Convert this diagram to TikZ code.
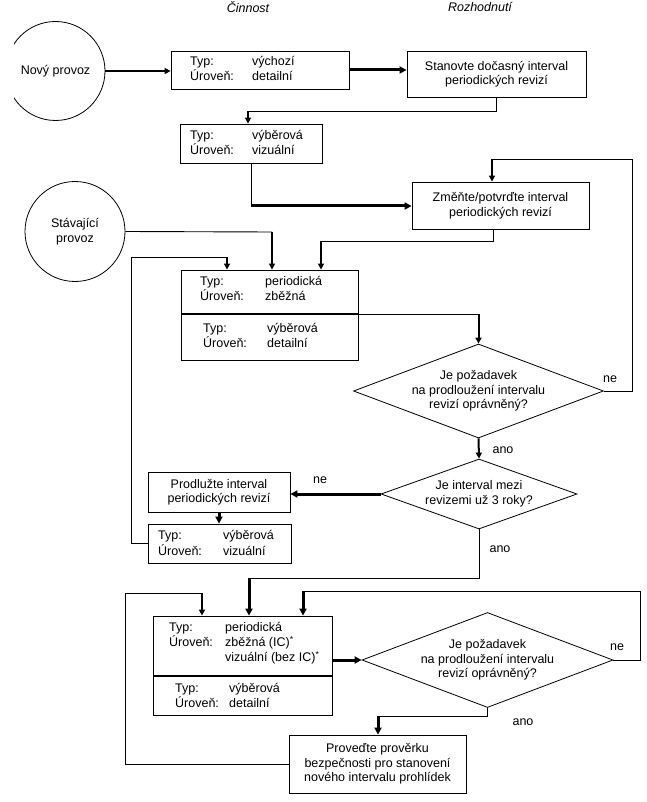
\documentclass[tikz,border=0pt]{standalone}
\usepackage{fontspec}
\setmainfont{Liberation Sans}
\usetikzlibrary{arrows.meta,positioning,shapes.geometric}

\tikzset{
  box/.style={draw, line width=0.8pt, inner sep=0pt, align=center},
  circ/.style={draw, circle, line width=0.8pt, inner sep=0pt, align=center},
  ask/.style={draw, diamond, line width=0.8pt, inner sep=0pt, align=center},
  txt/.style={inner sep=0pt, anchor=west},
  lbl/.style={inner sep=0pt},
  link/.style={line width=0.9pt},
  tip/.style={line width=2pt, -{Triangle[length=6pt,width=6pt]}},
  heavy/.style={line width=3pt, -{Triangle[length=7pt,width=7pt]}}
}
\newcommand{\typlevel}[3]{\begin{tabular}{@{}p{#1pt}@{}l@{}}Typ: & #2\\ Úroveň: & #3\end{tabular}}

\begin{document}
\begin{tikzpicture}[x=1pt, y=-1pt, font=\fontsize{12.5}{14.5}\selectfont]
\useasboundingbox (0,0) rectangle (646,802);

% Column headings
\node[lbl, font=\fontsize{12.5}{14.5}\selectfont\itshape] (hcin) at (248,7) {Činnost};
\node[lbl, font=\fontsize{12.5}{14.5}\selectfont\itshape] (hroz) at (480,7) {Rozhodnutí};

% Start points
\begin{scope}
  \clip (14,0) rectangle (200,140);
  \node[circ, minimum size=99pt] (novy) at (55.5,71) {Nový provoz};
\end{scope}
\node[circ, minimum size=100pt] (stav) at (75,231.5) {Stávající\\provoz};

% Inspections (Typ / Úroveň)
\node[box, minimum width=178pt, minimum height=38pt] (b1) at (260,70) {};
\node[txt] (b1t) at (190,70.5) {\typlevel{62}{výchozí}{detailní}};
\node[box, minimum width=142pt, minimum height=39pt] (b2) at (251,143.5) {};
\node[txt] (b2t) at (190,144.5) {\typlevel{62}{výběrová}{vizuální}};
\node[box, minimum width=177pt, minimum height=90pt] (b3) at (269.5,315) {};
\node[txt] (b3a) at (200,290) {\typlevel{65}{periodická}{zběžná}};
\node[txt] (b3b) at (203,337.5) {\typlevel{64}{výběrová}{detailní}};
\coordinate (cut3) at (181,314);
\draw[line width=1.5pt] (cut3) -- (cut3 -| b3.east);
\node[box, minimum width=143pt, minimum height=39pt] (b4) at (219.5,543.5) {};
\node[txt] (b4t) at (158,544.5) {\typlevel{65}{výběrová}{vizuální}};
\node[box, minimum width=179pt, minimum height=99pt] (b5) at (242.5,665.5) {};
\node[txt] (b5a) at (169,643.5) {\begin{tabular}{@{}p{56pt}@{}l@{}}Typ: & periodická\\ Úroveň: & zběžná (IC)\textsuperscript{*}\\ & vizuální (bez IC)\textsuperscript{*}\end{tabular}};
\node[txt] (b5b) at (175,697) {\typlevel{54}{výběrová}{detailní}};
\coordinate (cut5) at (153,676);
\draw[line width=1.5pt] (cut5) -- (cut5 -| b5.east);

% Actions
\node[box, minimum width=179pt, minimum height=46pt] (stan) at (496.5,74) {Stanovte dočasný interval\\periodických revizí};
\node[box, minimum width=177pt, minimum height=47pt] (zmen) at (500.5,205.5) {Změňte/potvrďte interval\\periodických revizí};
\node[box, minimum width=142pt, minimum height=40pt] (prod) at (219,492) {Prodlužte interval\\periodických revizí};
\node[box, minimum width=177pt, minimum height=58pt] (prov) at (377.5,764) {Proveďte prověrku\\bezpečnosti pro stanovení\\nového intervalu prohlídek};

% Decisions
\node[ask, aspect=2.66, minimum width=250pt, minimum height=94pt] (d1) at (478.5,391) {Je požadavek\\na prodloužení intervalu\\revizí oprávněný?};
\node[ask, aspect=2.8, minimum width=196pt, minimum height=70pt] (d2) at (479,494) {Je interval mezi\\revizemi už 3 roky?};
\node[ask, aspect=2.64, minimum width=251pt, minimum height=95pt] (d3) at (487.5,660) {Je požadavek\\na prodloužení intervalu\\revizí oprávněný?};

% Top part
\draw[tip] (novy.east) -- (novy.east -| b1.west);
\draw[heavy] (b1.east) -- (b1.east -| stan.west);
\coordinate (k1) at (248,111);
\draw[link] (stan.south) |- (k1);
\draw[tip] (k1) -- (k1 |- b2.north);
\coordinate (k2) at (251,206);
\draw[link] (b2.south) -- (k2);
\draw[heavy] (k2) -- (k2 -| zmen.west);

% Into the periodic inspection
\coordinate (k3) at (272,232);
\draw[link] (stav.east) -- (k3);
\draw[tip] (k3) -- (k3 |- b3.north);
\coordinate (k4) at (321,241);
\draw[link] ([xshift=-7.5pt]zmen.south) |- (k4);
\draw[tip] (k4) -- (k4 |- b3.north);
\coordinate (k5) at (131,257);
\coordinate (k6) at (227,257);
\draw[link] (b4.west) -| (k5) -- (k6);
\draw[tip] (k6) -- (k6 |- b3.north);

% First decision
\coordinate (k7) at (d1.north |- cut3);
\draw[link] (cut3 -| b3.east) -- (k7);
\draw[tip] (k7) -- (d1.north);
\coordinate (k8) at (632,159);
\coordinate (k9) at (492,159);
\draw[link] (d1.east) -| (k8) -- (k9);
\draw[tip] (k9) -- (k9 |- zmen.north);
\node[lbl] (ne1) at (610,379) {ne};
\draw[tip] (d1.south) -- (d2.north);
\node[lbl] (ano1) at (503,450) {ano};

% Second decision
\draw[heavy] (d2.west) -- (d2.west -| prod.east);
\node[lbl] (ne2) at (320,480) {ne};
\draw[heavy] (prod.south) -- (prod.south |- b4.north);
\coordinate (k10) at (249,578);
\draw[link] (d2.south) |- (k10);
\draw[heavy] (k10) -- (k10 |- b5.north);
\node[lbl] (ano2) at (500,549) {ano};

% Bottom part
\coordinate (k11) at (125,593);
\coordinate (k12) at (202,593);
\draw[link] (prov.west) -| (k11) -- (k12);
\draw[tip] (k12) -- (k12 |- b5.north);
\draw[heavy] (b5.east |- d3.west) -- (d3.west);
\coordinate (k13) at (640,591);
\coordinate (k14) at (303,591);
\draw[link] (d3.east) -| (k13) -- (k14);
\draw[heavy] (k14) -- (k14 |- b5.north);
\node[lbl] (ne3) at (617,647) {ne};
\coordinate (k15) at (378,716);
\draw[link] (d3.south) |- (k15);
\draw[heavy] (k15) -- (k15 |- prov.north);
\node[lbl] (ano3) at (523,722) {ano};
\end{tikzpicture}
\end{document}
